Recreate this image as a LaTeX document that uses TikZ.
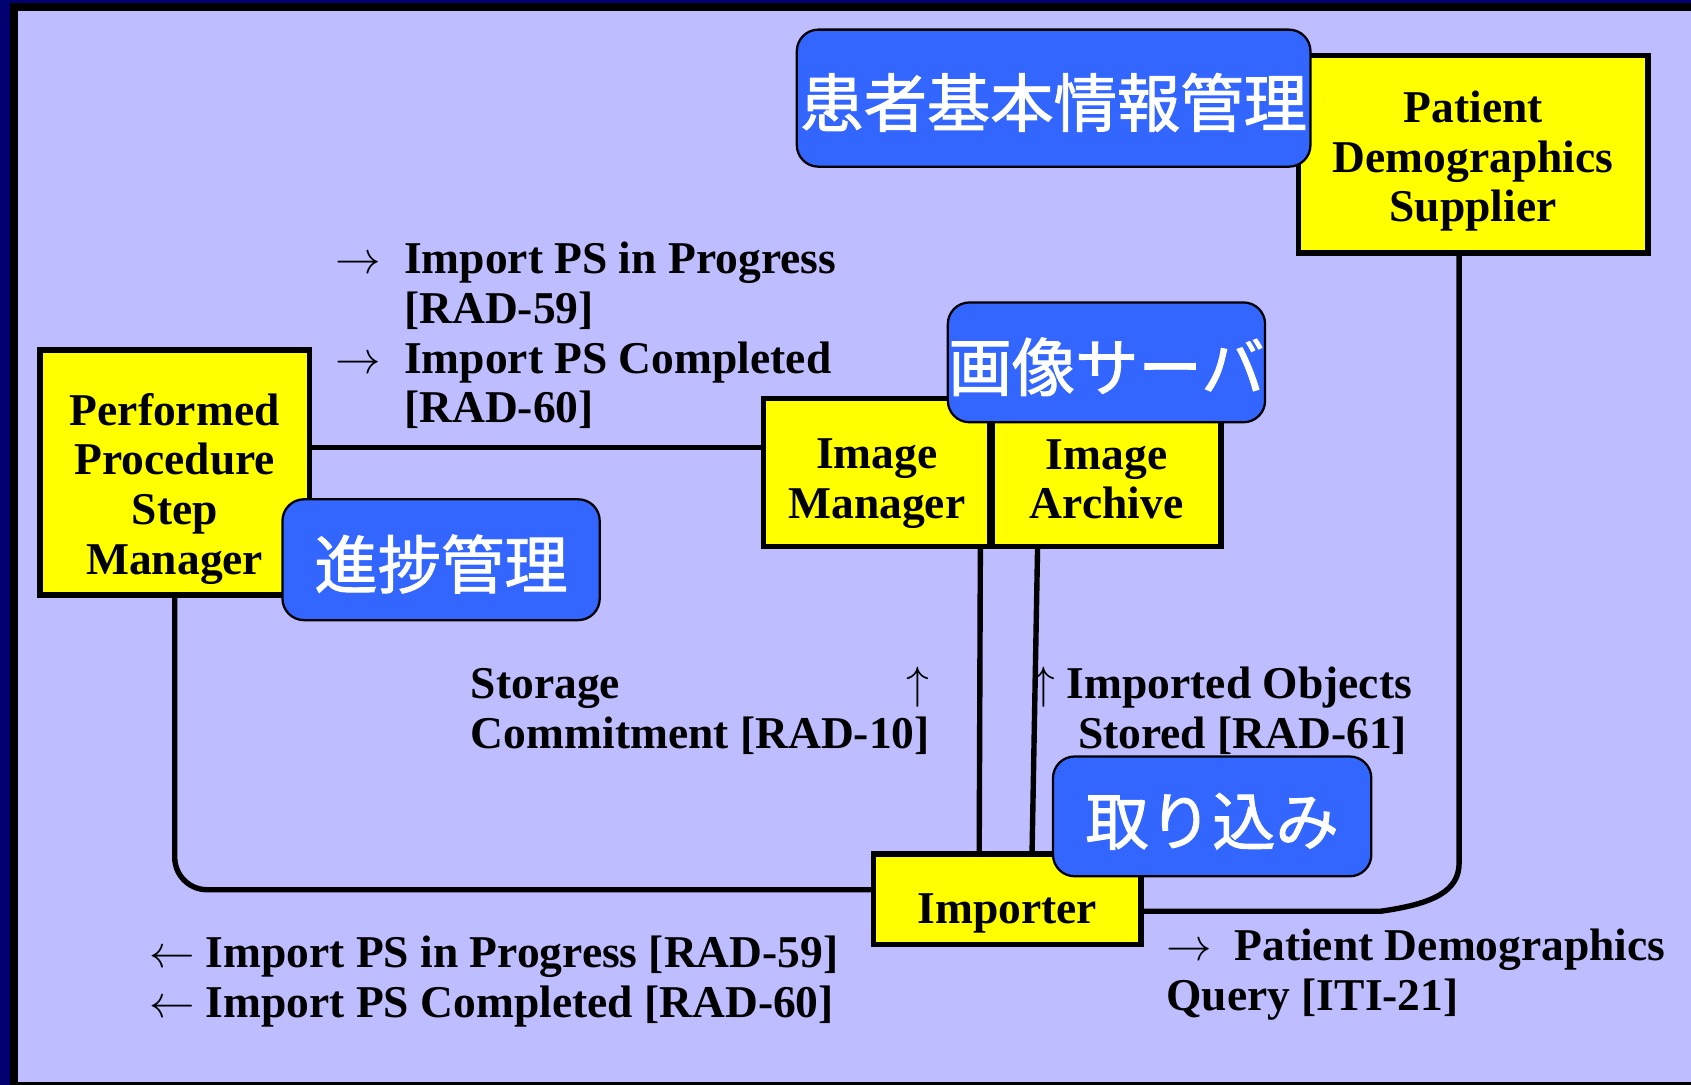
\documentclass[tikz,border=0pt]{standalone}
\usepackage{fontspec}
\setmainfont{Liberation Serif}
\newfontfamily\jpfont{Noto Sans CJK JP}[FakeBold=1.5]
\usetikzlibrary{positioning}
\definecolor{panel}{RGB}{189,189,255}
\definecolor{navy}{RGB}{0,0,112}
\definecolor{tagblue}{RGB}{51,102,255}
\definecolor{boxyellow}{RGB}{255,255,0}
\newcommand{\capgap}[1]{\rule{0pt}{#1}}% pushes box text down a little
\tikzset{
actor/.style={draw, fill=boxyellow, line width=0.05cm, align=center, inner sep=0pt, font=\fontsize{12}{13.1}\selectfont\bfseries}, % yellow actor boxes
tag/.style={draw, fill=tagblue, text=white, rounded corners=0.2cm, line width=0.6pt, inner sep=0pt, text height=17pt, text depth=2pt, font=\jpfont\fontsize{16.7}{18}\selectfont}, % japanese captions
link/.style={line width=0.05cm}, % transaction lines
lbl/.style={anchor=base west, inner sep=0pt, font=\fontsize{12}{13.1}\selectfont\bfseries}, % transaction names
}
\begin{document}
\begin{tikzpicture}[x=0.01cm, y=-0.01cm]%pixel grid, y downwards
  \fill[navy] (0,0) rectangle (1568,1006);
  \fill[black] (9,3) rectangle (1568,1006);
  \fill[panel] (17,10) rectangle (1568,1003);
  \useasboundingbox (0,0) rectangle (1568,1006);

  \node[actor, minimum width=2.5cm, minimum height=2.27cm] (ppsm) at (162,438) {\capgap{17pt}Performed\\Procedure\\Step\\Manager};
  \node[actor, minimum width=2.1cm, minimum height=1.37cm] (imgmgr) at (813,438) {\capgap{13.8pt}Image\\Manager};
  \node[actor, minimum width=2.12cm, minimum height=1.37cm, right=-0.03cm of imgmgr] (imgarc) {\capgap{11.5pt}Image\\Archive};
  \node[actor, minimum width=3.24cm, minimum height=1.83cm] (pds) at (1366,143) {\capgap{12pt}Patient\\Demographics\\Supplier};
  \node[actor, minimum width=2.48cm, minimum height=0.84cm] (importer) at (934,834) {\capgap{15.5pt}Importer};

  \draw[link] ([yshift=0.23cm]ppsm.east) -- ([yshift=0.23cm]imgmgr.west);
  \draw[link] ([xshift=0.96cm]imgmgr.south) -- ([xshift=-0.26cm]importer.north);
  \draw[link] ([xshift=-0.64cm]imgarc.south) -- ([xshift=0.23cm]importer.north);
  \draw[link, rounded corners=0.3cm] (ppsm.south) |- ([yshift=0.09cm]importer.west);
  \draw[link] ([yshift=-0.11cm]importer.east) -- (1280,845) .. controls (1330,838) and (1353,826) .. (1353,800) -- ([xshift=-0.13cm]pds.south);

  \node[tag, minimum width=4.76cm, minimum height=1.27cm] (pdtag) at (977,91) {患者基本情報管理};
  \node[tag, minimum width=2.94cm, minimum height=1.11cm] (srvtag) at (1026,336) {画像サーバ};
  \node[tag, minimum width=2.94cm, minimum height=1.12cm] (ppstag) at (409,519) {進捗管理};
  \node[tag, minimum width=2.95cm, minimum height=1.11cm] (imptag) at (1124,757) {取り込み};

  \node[lbl] (pslbl) at (310,254) {\begin{tabular}[t]{@{}l@{}}\makebox[0.64cm][l]{$\rightarrow$}Import PS in Progress\\\hspace*{0.64cm}[RAD-59]\\\makebox[0.64cm][l]{$\rightarrow$}Import PS Completed\\\hspace*{0.64cm}[RAD-60]\end{tabular}};
  \node[lbl] (commitlbl) at (436,648) {\begin{tabular}[t]{@{}l@{}}Storage\hfill$\uparrow$\\Commitment [RAD-10]\end{tabular}};
  \node[lbl] (storedlbl) at (957,648) {\begin{tabular}[t]{@{}l@{}}$\uparrow$ Imported Objects\\\hspace*{0.42cm}Stored [RAD-61]\end{tabular}};
  \node[lbl] (psretlbl) at (138,897) {\begin{tabular}[t]{@{}l@{}}\makebox[0.52cm][l]{$\leftarrow$}Import PS in Progress [RAD-59]\\\makebox[0.52cm][l]{$\leftarrow$}Import PS Completed [RAD-60]\end{tabular}};
  \node[lbl] (pdqlbl) at (1081,891) {\begin{tabular}[t]{@{}l@{}}\makebox[0.63cm][l]{$\rightarrow$}Patient Demographics\\Query [ITI-21]\end{tabular}};
\end{tikzpicture}
\end{document}
